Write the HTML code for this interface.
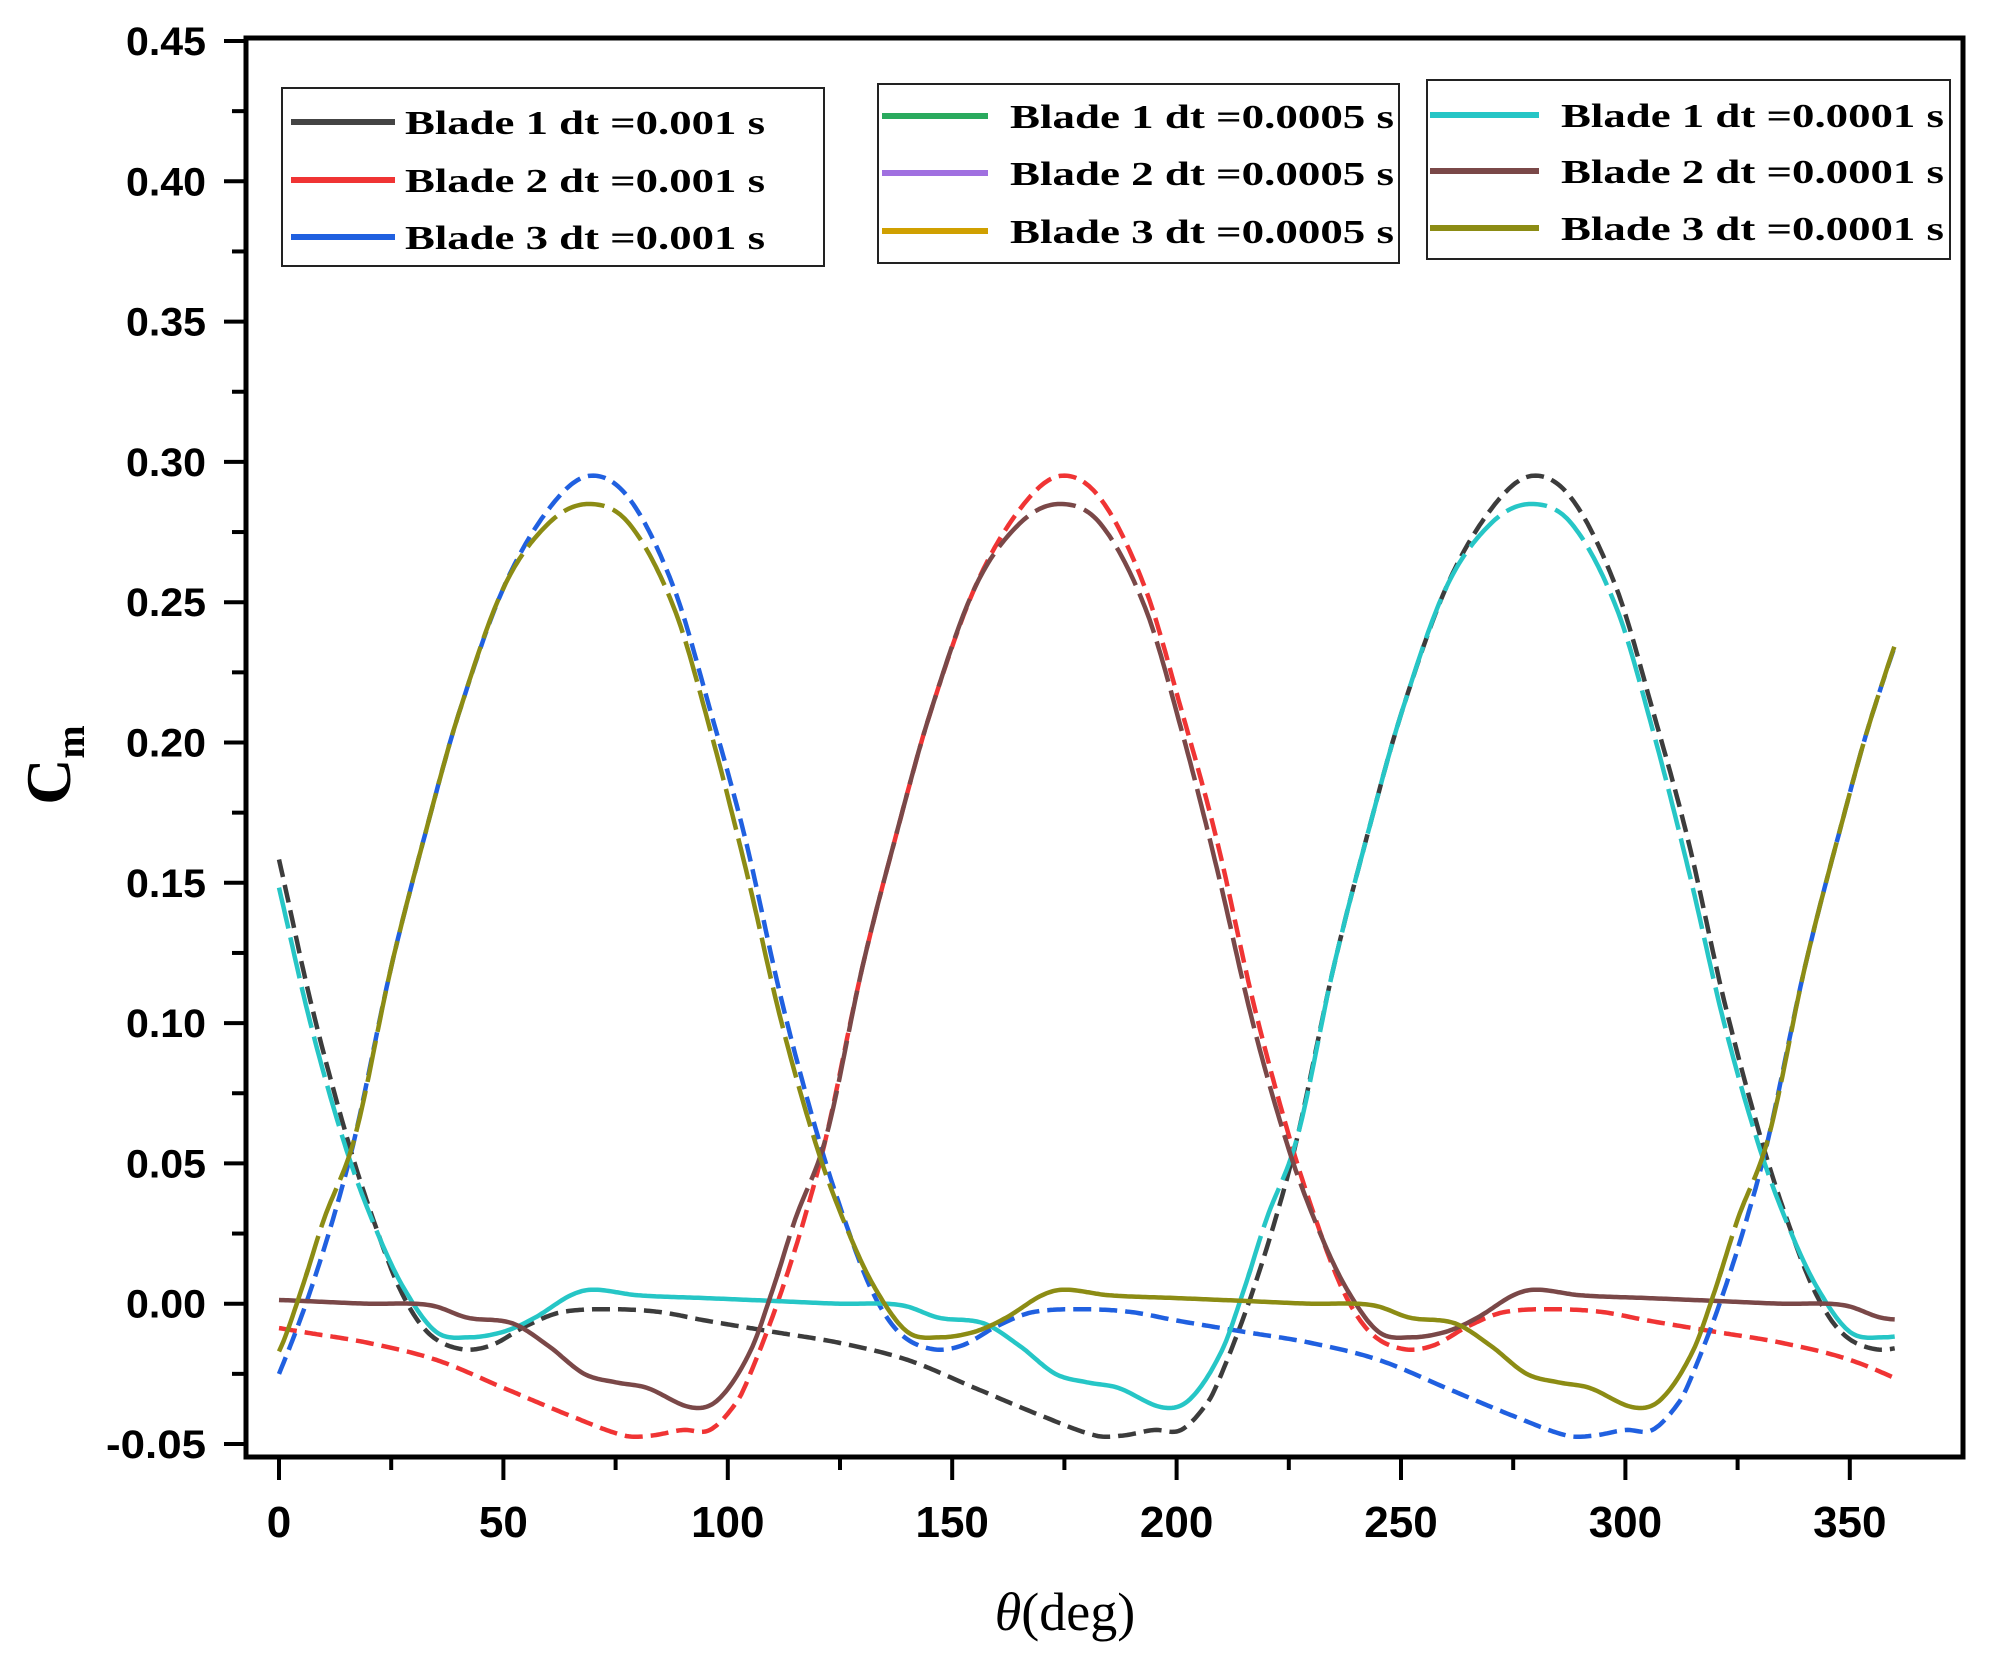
<!DOCTYPE html>
<html><head><meta charset="utf-8"><style>html,body{margin:0;padding:0;background:#fff}svg{display:block}</style></head>
<body>
<svg id="s" xmlns="http://www.w3.org/2000/svg" width="1989" height="1653" viewBox="0 0 1989 1653">
<rect x="0" y="0" width="1989" height="1653" fill="#fff"/>
<g id="curves"></g>
<rect x="246" y="38" width="1717" height="1419" fill="none" stroke="#000" stroke-width="5"/>
<g id="ticks" stroke="#000" stroke-width="4"></g>
<g id="labels" font-family="Liberation Sans, sans-serif" font-weight="bold" font-size="40" fill="#000"></g>
<text x="1065" y="1630" text-anchor="middle" font-family="Liberation Serif, serif" font-size="54"><tspan font-style="italic">θ</tspan>(deg)</text>
<text transform="translate(70,765) rotate(-90)" text-anchor="middle" font-family="Liberation Serif, serif" font-weight="bold" font-size="64">C<tspan font-size="40" dy="14">m</tspan></text>
<g id="legend" font-family="Liberation Serif, serif" font-weight="bold" font-size="34"></g>
</svg>
<script>
var NS="http://www.w3.org/2000/svg";
function el(p,t,a){var e=document.createElementNS(NS,t);for(var k in a)e.setAttribute(k,a[k]);p.appendChild(e);return e;}
function X(t){return 279+t*4.488;}
function Y(v){return 41+(0.45-v)*2806;}
var T=document.getElementById('ticks'),L=document.getElementById('labels');
for(var i=0;i<=20;i++){var v=-0.05+i*0.025,y=Y(v),maj=i%2==0;
 el(T,'line',{x1:246,x2:maj?224:232,y1:y,y2:y});
 if(maj){var t=el(L,'text',{x:206,y:y+14,'text-anchor':'end',textLength:v<0?100:80,lengthAdjust:'spacingAndGlyphs'});t.textContent=v.toFixed(2);}}
for(var d=0;d<=350;d+=25){var x=X(d),maj=d%50==0;
 el(T,'line',{x1:x,x2:x,y1:1457,y2:maj?1480:1470});
 if(maj){var t=el(L,'text',{x:x,y:1537,'text-anchor':'middle','font-size':44});t.textContent=d;}}
var blue=[[0,-0.025],[6,0],[12,0.03],[17,0.06],[25,0.12],[33,0.17],[40,0.21],[50,0.255],[60,0.283],[69,0.295],[78,0.287],[88,0.255],[96,0.212],[104,0.165],[112,0.108],[120,0.06],[126,0.03],[132,0.005],[138,-0.01],[145,-0.016],[152,-0.015],[160,-0.008],[168,-0.003],[180,-0.002],[190,-0.003],[200,-0.006],[215,-0.01],[230,-0.014],[245,-0.02],[260,-0.03],[275,-0.04],[287,-0.047],[293,-0.047],[300,-0.045],[306,-0.045],[312,-0.035]];
var olive=[[0,-0.017],[5,0.005],[10,0.03],[17,0.06],[25,0.12],[33,0.17],[40,0.21],[50,0.255],[60,0.278],[69,0.285],[78,0.278],[88,0.248],[96,0.205],[104,0.155],[112,0.1],[120,0.055],[127,0.025],[133,0.005],[140,-0.01],[147,-0.012],[155,-0.01],[162,-0.005],[170,0.003],[175,0.005],[185,0.003],[200,0.002],[215,0.001],[230,0],[240,0],[245,-0.001],[252,-0.005],[262,-0.007],[270,-0.015],[278,-0.025],[285,-0.028],[292,-0.03],[302,-0.037],[308,-0.034]];
var P=315;
function f(pts,t){t=((t%P)+P)%P;var n=pts.length;
 var ext=[];for(var k=-2;k<n+2;k++){var j=((k%n)+n)%n,o=Math.floor(k/n)*P;ext.push([pts[j][0]+o,pts[j][1]]);}
 for(var i=1;i<ext.length-2;i++){if(t>=ext[i][0]&&t<ext[i+1][0]){var p0=ext[i-1],p1=ext[i],p2=ext[i+1],p3=ext[i+2];var u=(t-p1[0])/(p2[0]-p1[0]);
  var m1=(p2[1]-p0[1])/(p2[0]-p0[0])*(p2[0]-p1[0]),m2=(p3[1]-p1[1])/(p3[0]-p1[0])*(p2[0]-p1[0]);
  var h00=2*u*u*u-3*u*u+1,h10=u*u*u-2*u*u+u,h01=-2*u*u*u+3*u*u,h11=u*u*u-u*u;
  return h00*p1[1]+h10*m1+h01*p2[1]+h11*m2;}}return pts[0][1];}
var C=document.getElementById('curves');
function curve(pts,shift,col,dash,split){
 var pts2=[];for(var t=0;t<=360;t+=0.5)pts2.push([t,f(pts,t-shift)]);
 if(!split){var d='';pts2.forEach(function(p,i){d+=(i?'L':'M')+X(p[0]).toFixed(1)+' '+Y(p[1]).toFixed(1);});
  el(C,'path',{d:d,fill:'none',stroke:col,'stroke-width':4.5,'stroke-dasharray':dash});return;}
 var segs=[],cur=null,curHi=null;
 pts2.forEach(function(p){var hi=p[1]>0.012;if(cur===null||hi!==curHi){if(cur)cur.pts.push(p);cur={hi:hi,pts:cur?[cur.pts[cur.pts.length-2]||p]:[]};segs.push(cur);curHi=hi;}cur.pts.push(p);});
 segs.forEach(function(s){var d='';s.pts.forEach(function(p,i){d+=(i?'L':'M')+X(p[0]).toFixed(1)+' '+Y(p[1]).toFixed(1);});
  el(C,'path',{d:d,fill:'none',stroke:col,'stroke-width':4.5,'stroke-dasharray':s.hi?dash:'none'});});}
curve(blue,210,'#3c3c3c','18 8');
curve(blue,105,'#f03434','18 8');
curve(blue,0,'#2060e0','18 8');
curve(olive,210,'#26c6c6','42 9',true);
curve(olive,105,'#7a4848','42 9',true);
curve(olive,0,'#8c8c14','42 9',true);
var G=document.getElementById('legend');
var boxes=[
 {x:282,y:88,w:542,h:178,lx1:291,lx2:395,tx:405,tl:360,rows:[122,180,237],items:[['Blade 1 dt =0.001 s','#444'],['Blade 2 dt =0.001 s','#f03434'],['Blade 3 dt =0.001 s','#2060e0']]},
 {x:878,y:84,w:521,h:179,lx1:882,lx2:988,tx:1010,tl:384,rows:[116,173,231],items:[['Blade 1 dt =0.0005 s','#2aaa5e'],['Blade 2 dt =0.0005 s','#a070e0'],['Blade 3 dt =0.0005 s','#d0a000']]},
 {x:1427,y:80,w:523,h:179,lx1:1430,lx2:1539,tx:1561,tl:383,rows:[115,171,228],items:[['Blade 1 dt =0.0001 s','#26c6c6'],['Blade 2 dt =0.0001 s','#7a4848'],['Blade 3 dt =0.0001 s','#8c8c14']]}];
boxes.forEach(function(b){el(G,'rect',{x:b.x,y:b.y,width:b.w,height:b.h,fill:'#fff',stroke:'#222','stroke-width':2});
 b.items.forEach(function(it,i){var y=b.rows[i];el(G,'line',{x1:b.lx1,x2:b.lx2,y1:y,y2:y,stroke:it[1],'stroke-width':6});
  var t=el(G,'text',{x:b.tx,y:y+12,textLength:b.tl,lengthAdjust:'spacingAndGlyphs'});t.textContent=it[0];});});
</script>
</body></html>
